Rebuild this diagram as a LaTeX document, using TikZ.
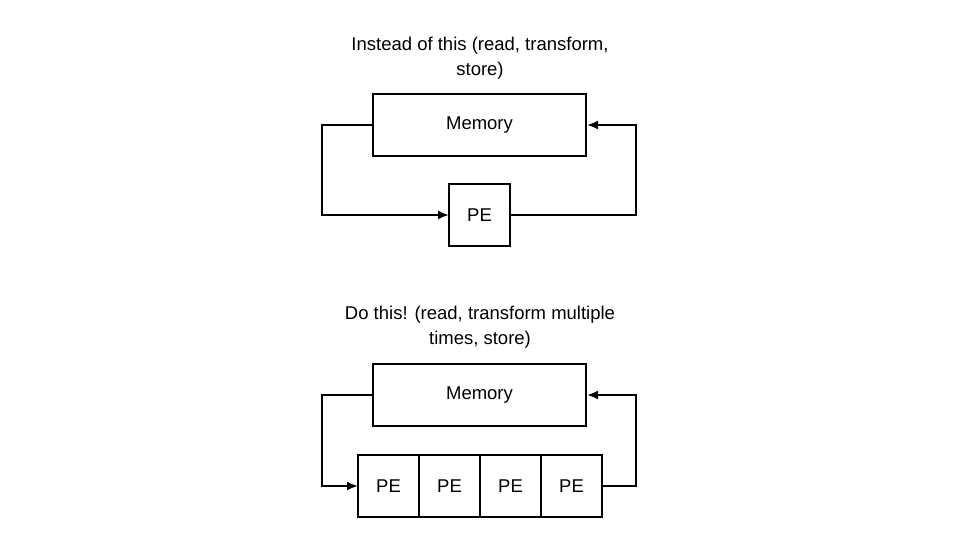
\documentclass[tikz,border=0pt]{standalone}
\usepackage{fontspec}
\setmainfont{Liberation Sans}
\usetikzlibrary{positioning, arrows.meta}

\begin{document}
\begin{tikzpicture}[x=1pt, y=-1pt, line width=2pt, >={Latex[length=11pt, width=9pt]},
	box/.style={draw, minimum width=213pt, minimum height=62pt, inner sep=0pt, font=\fontsize{18.5}{22}\selectfont},
	pebox/.style={draw, outer sep=0pt, minimum width=61pt, minimum height=62pt, inner sep=0pt, font=\fontsize{18.5}{22}\selectfont},
	caption/.style={align=center, font=\fontsize{18.5}{25}\selectfont}]
	\useasboundingbox (0, 0) rectangle (960, 540);
	% instead of this
	\node[caption] (cap1) at (480, 58) {Instead of this (read, transform,\\store)};
	\node[box] (mem1) at (479.5, 125) {Memory};
	\node[pebox] (pe1) at (479.5, 215) {PE};
	\draw[->] (mem1.west) -- ++(-50, 0) |- (pe1.west);
	\draw[->] (pe1.east) -- ++(126, 0) |- (mem1.east);
	% do this
	\node[caption] (cap2) at (480, 327) {Do this! (read, transform multiple\\times, store)};
	\node[box] (mem2) at (479.5, 395) {Memory};
	\node[pebox] (pa) at (388.5, 486) {PE};
	\node[pebox, right=0pt of pa] (pb) {PE};
	\node[pebox, right=0pt of pb] (pc) {PE};
	\node[pebox, right=0pt of pc] (pd) {PE};
	\draw[->] (mem2.west) -- ++(-50, 0) |- (pa.west);
	\draw[->] (pd.east) -- ++(34, 0) |- (mem2.east);
\end{tikzpicture}
\end{document}
